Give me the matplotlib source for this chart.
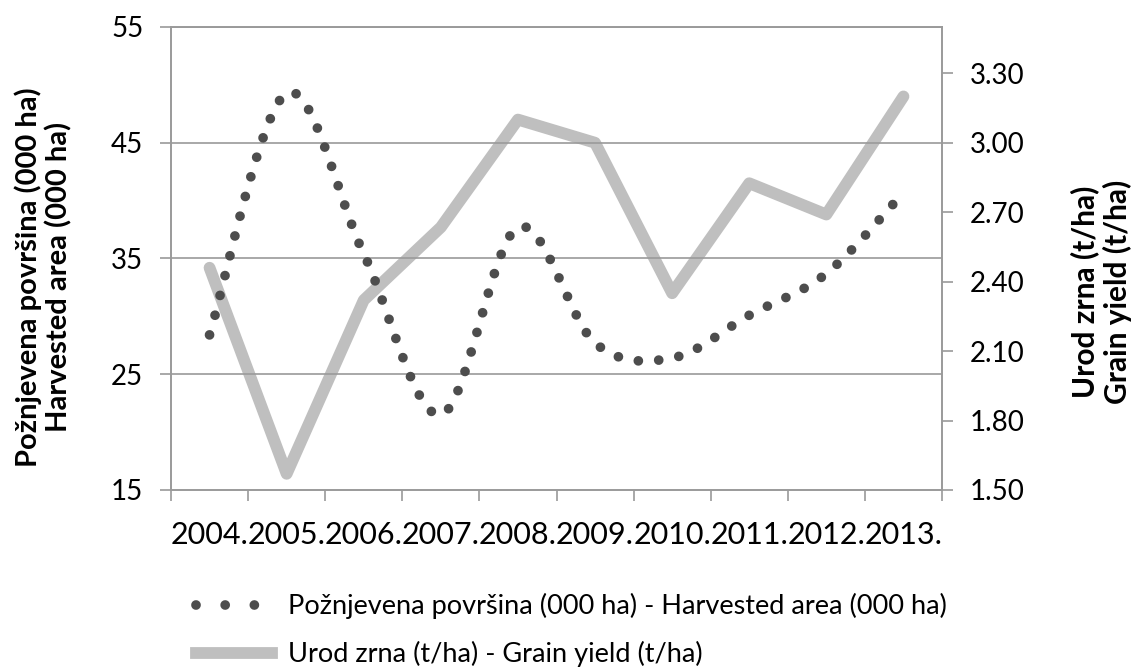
import numpy as np
import matplotlib
matplotlib.use("Agg")
import matplotlib.pyplot as plt
from matplotlib.lines import Line2D

plt.rcParams['font.family'] = ['Lato', 'DejaVu Sans']

years = ["2004.", "2005.", "2006.", "2007.", "2008.", "2009.", "2010.", "2011.", "2012.", "2013."]
harvested_area = [28.4, 49.3, 35.4, 21.5, 37.7, 27.7, 26.4, 30.1, 33.7, 40.7]
grain_yield = [2.46, 1.57, 2.32, 2.635, 3.10, 3.00, 2.35, 2.825, 2.69, 3.20]
left_ticks = [15, 25, 35, 45, 55]
right_ticks = [1.50, 1.80, 2.10, 2.40, 2.70, 3.00, 3.30]

label_area = "Požnjevena površina (000 ha) - Harvested area (000 ha)"
label_yield = "Urod zrna (t/ha) - Grain yield (t/ha)"


def smooth(x, y, n=30):
    # Catmull-Rom rendering of the curve through the data points
    x = np.asarray(x, float); y = np.asarray(y, float)
    px = np.concatenate([[x[0]], x, [x[-1]]])
    py = np.concatenate([[y[0]], y, [y[-1]]])
    xs, ys = [], []
    for i in range(1, len(px) - 2):
        t = np.linspace(0, 1, n, endpoint=False)
        for arr, out in ((px, xs), (py, ys)):
            p0, p1, p2, p3 = arr[i - 1], arr[i], arr[i + 1], arr[i + 2]
            out.extend(0.5 * ((2 * p1) + (-p0 + p2) * t +
                              (2 * p0 - 5 * p1 + 4 * p2 - p3) * t ** 2 +
                              (-p0 + 3 * p1 - 3 * p2 + p3) * t ** 3))
    xs.append(x[-1]); ys.append(y[-1])
    return np.array(xs), np.array(ys)


fig = plt.figure(figsize=(11.36, 6.69), dpi=100)
ax = fig.add_axes([171 / 1136, 1 - 490 / 669, (942 - 171) / 1136, (490 - 27) / 669])
ax2 = ax.twinx()

xi = np.arange(len(years))
grid_c = '#9a9a9a'
dot_c = '#4d4d4d'
line_c = '#bfbfbf'

for v in left_ticks[1:]:
    ax.axhline(v, color=grid_c, lw=1.2, zorder=0)

sx, sy = smooth(xi, harvested_area)
ax.plot(sx, sy, color=dot_c, lw=7, linestyle=(0, (0.001, 2.1)),
        dash_capstyle='round', zorder=3)
ax2.plot(xi, grain_yield, color=line_c, lw=8.5, solid_joinstyle='round',
         solid_capstyle='round', zorder=2)

ax.set_zorder(ax2.get_zorder() + 1)
ax.patch.set_visible(False)

ax.set_xlim(-0.5, len(years) - 0.5)
ax.set_ylim(15, 55)
ax2.set_ylim(1.5, 3.5)

ax.set_yticks(left_ticks)
ax.set_yticklabels([str(v) for v in left_ticks])
ax2.set_yticks(right_ticks)
ax2.set_yticklabels([f"{v:.2f}" for v in right_ticks])

ax.set_xticks(xi)
ax.set_xticklabels(years)
ax.set_xticks(np.arange(-0.5, len(years)), minor=True)
ax.tick_params(axis='x', which='major', length=0, pad=22, labelsize=22)
ax.tick_params(axis='x', which='minor', length=8, color=grid_c, width=1.2)
ax.tick_params(axis='y', length=8, color=grid_c, width=1.2, pad=12, labelsize=20)
ax2.tick_params(axis='y', length=8, color=grid_c, width=1.2, pad=12, labelsize=20)

for a in (ax, ax2):
    for s in a.spines.values():
        s.set_color(grid_c)
        s.set_linewidth(1.2)

fig.text(43 / 1136, 1 - 277 / 669, "Požnjevena površina (000 ha)\nHarvested area (000 ha)",
         rotation=90, ha='center', va='center', fontsize=21, fontweight='bold',
         linespacing=1.15, multialignment='center')
fig.text(1101 / 1136, 1 - 292 / 669, "Urod zrna (t/ha)\nGrain yield (t/ha)",
         rotation=90, ha='center', va='center', fontsize=21.5, fontweight='bold',
         linespacing=1.15, multialignment='center')

h1 = Line2D([], [], color=dot_c, lw=7, linestyle=(0, (0.001, 3.0)),
            dash_capstyle='round')
h2 = Line2D([], [], color=line_c, lw=8.5)
fig.legend([h1, h2], [label_area, label_yield], loc='upper left',
           bbox_to_anchor=(172 / 1136, 1 - 569 / 669), frameon=False,
           fontsize=19.5, handlelength=2.8, handletextpad=0.6, labelspacing=0.8)

fig.savefig("out.png", dpi=100)
